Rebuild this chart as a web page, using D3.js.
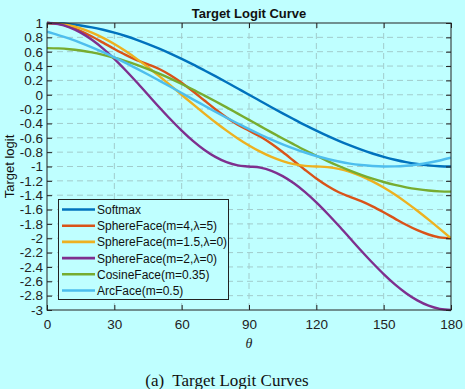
<!DOCTYPE html>
<html><head><meta charset="utf-8">
<script src="https://cdn.jsdelivr.net/npm/d3@7"></script>
<style>
html,body{margin:0;padding:0;background:#bfffff;}
svg{display:block;}
text{font-family:"Liberation Sans",Arial,sans-serif;}
</style></head>
<body>
<svg id="c" width="465" height="389"></svg>
<script>
// θ sample positions (degrees)
const theta = [0,5,10,15,20,25,30,35,40,45,50,55,60,65,70,75,80,85,90,95,100,105,110,115,120,125,130,135,140,145,150,155,160,165,170,175,180];

const seriesNames = ["Softmax","SphereFace(m=4,\u03bb=5)","SphereFace(m=1.5,\u03bb=0)","SphereFace(m=2,\u03bb=0)","CosineFace(m=0.35)","ArcFace(m=0.5)"];
const seriesColors = ["#0072BD","#D95319","#EDB120","#7E2F8E","#77AC30","#4DBEEE"];

const softmax = [1,0.996,0.985,0.966,0.940,0.906,0.866,0.819,0.766,0.707,0.643,0.574,0.5,0.423,0.342,0.259,0.174,0.087,0,-0.087,-0.174,-0.259,-0.342,-0.423,-0.5,-0.574,-0.643,-0.707,-0.766,-0.819,-0.866,-0.906,-0.940,-0.966,-0.985,-0.996,-1];
const sphere4 = [1,0.987,0.948,0.888,0.812,0.726,0.638,0.555,0.482,0.423,0.359,0.272,0.167,0.048,-0.077,-0.201,-0.316,-0.417,-0.5,-0.583,-0.684,-0.799,-0.923,-1.048,-1.167,-1.272,-1.359,-1.423,-1.482,-1.555,-1.638,-1.726,-1.812,-1.888,-1.948,-1.987,-2];
const sphere15 = [1,0.991,0.966,0.924,0.866,0.793,0.707,0.609,0.5,0.383,0.259,0.131,0,-0.131,-0.259,-0.383,-0.5,-0.609,-0.707,-0.793,-0.866,-0.924,-0.966,-0.991,-1,-1.009,-1.034,-1.076,-1.134,-1.207,-1.293,-1.391,-1.5,-1.617,-1.741,-1.869,-2];
const sphere2 = [1,0.985,0.940,0.866,0.766,0.643,0.5,0.342,0.174,0,-0.174,-0.342,-0.5,-0.643,-0.766,-0.866,-0.940,-0.985,-1,-1.015,-1.060,-1.134,-1.234,-1.357,-1.5,-1.658,-1.826,-2,-2.174,-2.342,-2.5,-2.643,-2.766,-2.866,-2.940,-2.985,-3];
const cosface = [0.65,0.646,0.635,0.616,0.590,0.556,0.516,0.469,0.416,0.357,0.293,0.224,0.15,0.073,-0.008,-0.091,-0.176,-0.263,-0.35,-0.437,-0.524,-0.609,-0.692,-0.773,-0.85,-0.924,-0.993,-1.057,-1.116,-1.169,-1.216,-1.256,-1.290,-1.316,-1.335,-1.346,-1.35];
const arcface = [0.878,0.832,0.781,0.724,0.661,0.593,0.520,0.444,0.364,0.282,0.197,0.111,0.024,-0.064,-0.150,-0.236,-0.320,-0.401,-0.480,-0.554,-0.625,-0.691,-0.751,-0.805,-0.854,-0.896,-0.931,-0.960,-0.980,-0.994,-1.000,-0.998,-0.989,-0.972,-0.948,-0.916,-0.878];

const seriesValues = [softmax, sphere4, sphere15, sphere2, cosface, arcface];

const xTicks = [0,30,60,90,120,150,180];
const yTicks = [1,0.8,0.6,0.4,0.2,0,-0.2,-0.4,-0.6,-0.8,-1,-1.2,-1.4,-1.6,-1.8,-2,-2.2,-2.4,-2.6,-2.8,-3];

const L = 47, R = 451, T = 23, B = 310;
const svg = d3.select("#c");
const x = d3.scaleLinear().domain([0,180]).range([L,R]);
const y = d3.scaleLinear().domain([-3,1]).range([B,T]);

// grid
const grid = svg.append("g");
grid.selectAll("line.gx").data(xTicks.slice(1,-1)).enter().append("line")
  .attr("x1",d=>x(d)).attr("x2",d=>x(d)).attr("y1",T).attr("y2",B)
  .attr("stroke","#a2cccc").attr("stroke-width",1).attr("stroke-dasharray","6,4");
grid.selectAll("line.gy").data(yTicks.slice(1,-1)).enter().append("line")
  .attr("x1",L).attr("x2",R).attr("y1",d=>y(d)).attr("y2",d=>y(d))
  .attr("stroke","#a2cccc").attr("stroke-width",1).attr("stroke-dasharray","6,4");

// curves
const line = d3.line().x((d,i)=>x(theta[i])).y(d=>y(d)).curve(d3.curveMonotoneX);
svg.append("clipPath").attr("id","clp").append("rect").attr("x",L).attr("y",T-2).attr("width",R-L).attr("height",B-T+4);
svg.append("g").attr("clip-path","url(#clp)").selectAll("path").data(seriesValues).enter().append("path")
  .attr("d",d=>line(d)).attr("fill","none").attr("stroke",(d,i)=>seriesColors[i]).attr("stroke-width",2.4)
  .attr("stroke-linejoin","round");

// axes with inward ticks
const fs = 13.5;
const axB = d3.axisBottom(x).tickValues(xTicks).tickSize(-5).tickPadding(9).tickFormat(d3.format("d"));
const axL = d3.axisLeft(y).tickValues(yTicks).tickSize(-5).tickPadding(4).tickFormat(d=>String(+d.toFixed(1)));
const axT = d3.axisTop(x).tickValues(xTicks).tickSize(-5).tickFormat("");
const axR = d3.axisRight(y).tickValues(yTicks).tickSize(-5).tickFormat("");
function style(g){g.select(".domain").remove();g.selectAll("line").attr("stroke","#222");g.selectAll("text").attr("fill","#222").style("font-size",fs+"px").style("font-family","'Liberation Sans',Arial,sans-serif");}
svg.append("g").attr("transform",`translate(0,${B})`).call(axB).call(style);
svg.append("g").attr("transform",`translate(${L},0)`).call(axL).call(style);
svg.append("g").attr("transform",`translate(0,${T})`).call(axT).call(style);
svg.append("g").attr("transform",`translate(${R},0)`).call(axR).call(style);
svg.append("rect").attr("x",L).attr("y",T).attr("width",R-L).attr("height",B-T).attr("fill","none").attr("stroke","#222").attr("stroke-width",1);

// title and labels
svg.append("text").attr("x",(L+R)/2).attr("y",18).attr("text-anchor","middle").style("font-size","13px").style("font-weight","bold").attr("fill","#111").text("Target Logit Curve");
svg.append("text").attr("transform",`translate(14,${(T+B)/2}) rotate(-90)`).attr("text-anchor","middle").style("font-size","13px").attr("fill","#111").text("Target logit");
svg.append("text").attr("x",(L+R)/2).attr("y",348).attr("text-anchor","middle").style("font-family","'Liberation Serif','Times New Roman',serif").style("font-style","italic").style("font-size","14px").attr("fill","#222").text("\u03b8");
svg.append("text").attr("x",227).attr("y",386).attr("text-anchor","middle").style("font-family","'Liberation Serif','Times New Roman',serif").style("font-size","17px").attr("fill","#111").text("(a)\u00a0 Target Logit Curves");

// legend
const lg = svg.append("g");
lg.append("rect").attr("x",58.5).attr("y",199.5).attr("width",170).attr("height",100).attr("fill","#bfffff").attr("stroke","#222").attr("stroke-width",1);
const items = lg.selectAll("g.it").data(seriesNames).enter().append("g").attr("transform",(d,i)=>`translate(0,${209.5+i*16.2})`);
items.append("line").attr("x1",62).attr("x2",95).attr("y1",0).attr("y2",0).attr("stroke",(d,i)=>seriesColors[i]).attr("stroke-width",2.6);
items.append("text").attr("x",97).attr("y",4.5).style("font-size","12px").attr("fill","#111").text(d=>d);
</script>
</body></html>
